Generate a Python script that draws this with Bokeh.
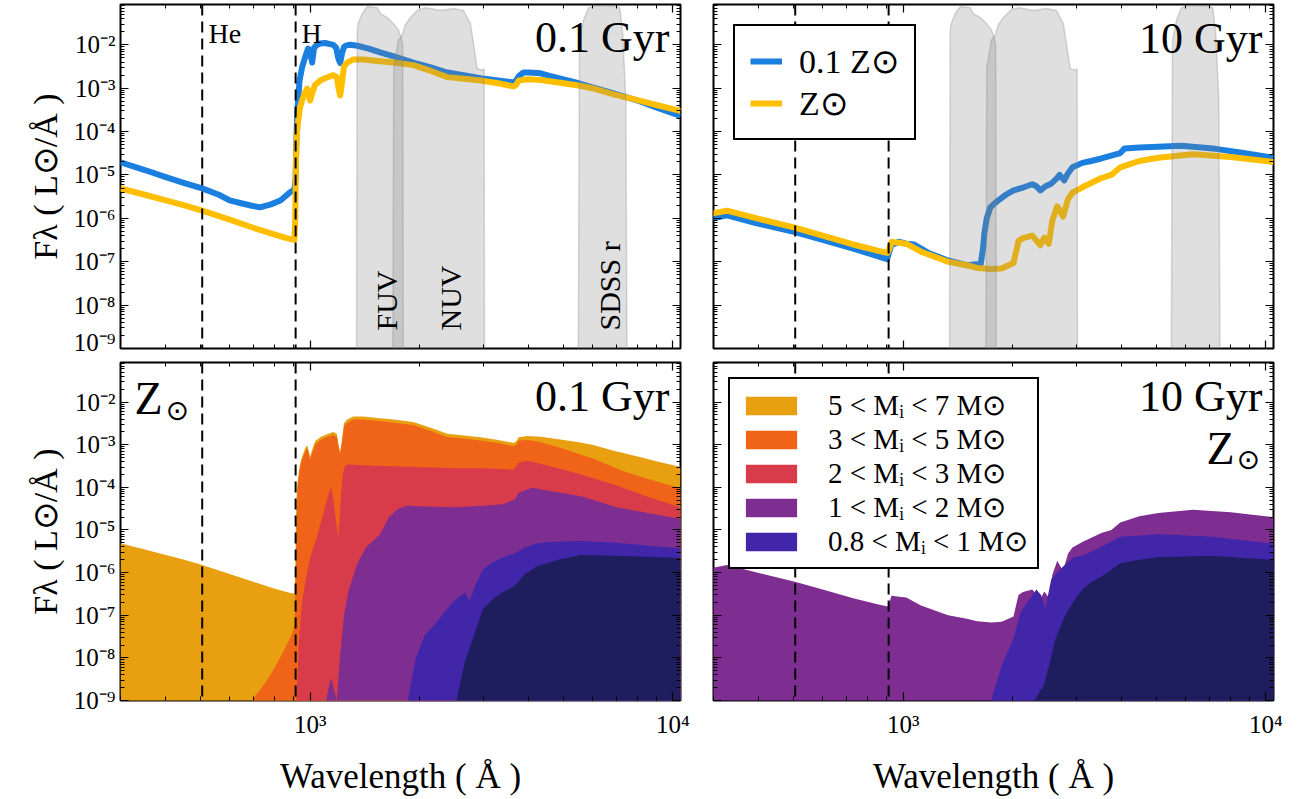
import math
from bokeh.plotting import figure
from bokeh.models import (Range1d, FixedTicker, LogAxis, CustomJSTickFormatter,
                          Span, Label, Legend, LegendItem)
from bokeh.layouts import column, row
from bokeh.embed import file_html
from bokeh.resources import INLINE

# ---------------- axes / ticks ----------------
XMIN, XMAX = 300.0, 10500.0
YMIN, YMAX = 1e-9, 8.5e-2
FLOOR = 1e-13

x_major = [1000, 10000]
x_minor = [300, 400, 500, 600, 700, 800, 900, 2000, 3000, 4000, 5000, 6000, 7000, 8000, 9000]
y_major = [1e-9, 1e-8, 1e-7, 1e-6, 1e-5, 1e-4, 1e-3, 1e-2]
y_minor = [k * 10.0 ** e for e in range(-9, -1) for k in range(2, 10) if k * 10.0 ** e <= YMAX]

edge_wl = [504, 912]
edge_names = ["He", "H"]

# ---------------- top row: total spectra ----------------
# 0.1 Gyr, 0.1 Zsun
wl_01z_01gyr = [300, 350, 400, 450, 504, 560, 600, 650, 690, 727, 780, 830, 880, 905, 912,
                916, 922, 935, 950, 968, 987, 1000, 1013, 1025, 1040, 1066, 1100, 1158, 1180, 1195,
                1210, 1225, 1240, 1260, 1290, 1350, 1450, 1560, 1700, 1926, 2150, 2390, 2650, 2950, 3300,
                3640, 3700, 3760, 3875, 4000, 4320, 4600, 5000, 5500, 6000, 6870, 8000, 9000, 10500]
flux_01z_01gyr = [1.95e-5, 1.3e-5, 8.9e-6, 6.5e-6, 4.9e-6, 3.5e-6, 2.6e-6, 2.2e-6, 1.95e-6, 1.8e-6,
                  2.1e-6, 2.6e-6, 4.0e-6, 4.6e-6, 8e-6, 6e-5, 3e-4, 1.5e-3, 3.0e-3, 5.1e-3,
                  8.2e-3, 6.5e-3, 3.9e-3, 8.5e-3, 9.7e-3, 1.07e-2, 1.1e-2, 1.0e-2, 8.5e-3, 5.0e-3,
                  3.8e-3, 6.5e-3, 9.0e-3, 9.7e-3, 1.0e-2, 9.5e-3, 8.2e-3, 6.7e-3, 5.4e-3, 3.9e-3,
                  3.0e-3, 2.3e-3, 2.0e-3, 1.7e-3, 1.5e-3, 1.35e-3, 1.5e-3, 1.9e-3, 2.3e-3, 2.3e-3,
                  2.2e-3, 1.9e-3, 1.6e-3, 1.3e-3, 1.05e-3, 7.6e-4, 5.2e-4, 3.6e-4, 2.3e-4]
# 0.1 Gyr, Zsun
wl_z1_01gyr = [300, 350, 400, 450, 504, 600, 700, 800, 860, 905, 910, 914, 918, 925, 938,
               950, 968, 981, 992, 1000, 1010, 1032, 1066, 1100, 1158, 1185, 1198, 1210, 1222, 1240,
               1265, 1315, 1400, 1560, 1700, 1926, 2150, 2390, 2650, 2950, 3300, 3640, 3700, 3760, 3970,
               4320, 5000, 5500, 6000, 6870, 8000, 9000, 10500]
flux_z1_01gyr = [4.9e-6, 3.5e-6, 2.6e-6, 2.0e-6, 1.5e-6, 9.3e-7, 6.0e-7, 4.2e-7, 3.5e-7, 3.2e-7,
                 1e-6, 2e-5, 8e-5, 1.5e-4, 3.6e-4, 5.2e-4, 8e-4, 9.8e-4, 7e-4, 5.2e-4,
                 7e-4, 1.2e-3, 1.5e-3, 1.7e-3, 2.0e-3, 1.8e-3, 1.0e-3, 6.8e-4, 1.2e-3, 3.2e-3,
                 3.9e-3, 4.6e-3, 4.6e-3, 4.2e-3, 3.9e-3, 3.4e-3, 2.5e-3, 1.8e-3, 1.65e-3, 1.5e-3,
                 1.3e-3, 1.1e-3, 1.2e-3, 1.5e-3, 1.6e-3, 1.55e-3, 1.3e-3, 1.15e-3, 1.0e-3, 7.2e-4,
                 5.3e-4, 4.1e-4, 3.0e-4]
# 10 Gyr, 0.1 Zsun
wl_01z_10gyr = [298, 327, 395, 503, 600, 728, 850, 903, 930, 950, 970, 1020, 1073, 1180, 1330,
                1500, 1637, 1660, 1675, 1700, 1740, 1830, 1920, 2015, 2150, 2270, 2330, 2390, 2470, 2560,
                2640, 2700, 2780, 2850, 2930, 3120, 3300, 3520, 3750, 3970, 4080, 4480, 5050, 5850, 7270,
                8500, 10500]
flux_01z_10gyr = [1.0e-6, 1.17e-6, 7.7e-7, 4.8e-7, 3.2e-7, 2.0e-7, 1.35e-7, 1.14e-7, 2.6e-7, 2.6e-7,
                  2.9e-7, 2.6e-7, 2.5e-7, 1.57e-7, 1.07e-7, 8.3e-8, 9e-8, 2.0e-7, 4.5e-7, 1.0e-6,
                  1.8e-6, 2.6e-6, 3.5e-6, 4.4e-6, 5.2e-6, 6.1e-6, 5.5e-6, 4.4e-6, 5.5e-6, 6.3e-6,
                  8e-6, 1.0e-5, 7.5e-6, 1.1e-5, 1.5e-5, 1.9e-5, 2.1e-5, 2.4e-5, 2.8e-5, 3.2e-5,
                  4.1e-5, 4.3e-5, 4.5e-5, 4.7e-5, 4.0e-5, 3.3e-5, 2.5e-5]
# 10 Gyr, Zsun
wl_z1_10gyr = [298, 327, 395, 503, 600, 728, 850, 905, 912, 930, 950, 1020, 1120, 1330, 1500,
               1600, 1750, 1870, 2015, 2080, 2140, 2270, 2390, 2450, 2520, 2580, 2660, 2760, 2850, 2930,
               3120, 3520, 3750, 3970, 4480, 5050, 6300, 8000, 10500]
flux_z1_10gyr = [1.3e-6, 1.5e-6, 1.0e-6, 6.1e-7, 4.0e-7, 2.5e-7, 1.8e-7, 1.6e-7, 1.8e-7, 2.9e-7,
                 2.8e-7, 2.6e-7, 1.7e-7, 1.0e-7, 8.3e-8, 7.2e-8, 6.8e-8, 7.0e-8, 9.3e-8, 3.0e-7,
                 3.5e-7, 4.0e-7, 2.4e-7, 3.6e-7, 2.6e-7, 9e-7, 1.9e-6, 1.1e-6, 2.8e-6, 3.9e-6,
                 5.2e-6, 8.5e-6, 1.0e-5, 1.5e-5, 2.1e-5, 2.5e-5, 3.0e-5, 2.6e-5, 2.0e-5]

# ---------------- filter bands (upper envelope) ----------------
fuv_wl = [1340, 1348, 1357, 1392, 1437, 1480, 1531, 1561, 1633, 1696, 1750, 1783, 1800, 1810]
fuv_top = [1e-13, 0.02, 0.031, 0.0526, 0.076, 0.074, 0.072, 0.0526, 0.0425, 0.031, 0.0224, 0.0147, 0.01, 1e-13]
nuv_wl = [1685, 1700, 1750, 1796, 1830, 1888, 1974, 2080, 2146, 2286, 2484, 2645, 2766, 2889, 2985, 3017, 3030]
nuv_top = [1e-13, 2.8e-3, 1.26e-2, 1.7e-2, 2.9e-2, 4.2e-2, 6.2e-2, 7.2e-2, 6.9e-2, 6.2e-2, 6.9e-2, 6.2e-2,
           3.1e-2, 2.8e-3, 2.6e-3, 2.8e-3, 1e-13]
r_wl = [5465, 5530, 5675, 5856, 6127, 6530, 6960, 7140, 7280, 7420, 7510]
r_top = [1e-13, 0.0126, 0.037, 0.072, 0.080, 0.080, 0.076, 0.072, 0.0173, 5.2e-4, 1e-13]
band_names = ["FUV", "NUV", "SDSS r"]

# ---------------- bottom row: cumulative contributions by initial mass ----------------
mass_bins = ["5 < Mᵢ < 7 M⊙", "3 < Mᵢ < 5 M⊙", "2 < Mᵢ < 3 M⊙", "1 < Mᵢ < 2 M⊙", "0.8 < Mᵢ < 1 M⊙"]
# 0.1 Gyr (Zsun): cumulative tops; top layer equals the total Zsun spectrum
wl_01gyr_3to5 = [690, 750, 800, 850, 896, 905, 912, 918, 925, 938, 950, 968, 981, 992, 1000,
                 1010, 1032, 1066, 1100, 1158, 1185, 1198, 1210, 1222, 1240, 1265, 1315, 1400, 1560, 1700,
                 1926, 2150, 2390, 2650, 2950, 3300, 3640, 3700, 3760, 3970, 4320, 5000, 5580, 6000, 7400,
                 8500, 10500]
cum_01gyr_3to5 = [1e-9, 2.5e-9, 6e-9, 1.6e-8, 4e-8, 6e-8, 8e-7, 1.6e-5, 1.2e-4, 3e-4,
                  4.4e-4, 6.8e-4, 8.3e-4, 6e-4, 4.4e-4, 6e-4, 1.0e-3, 1.28e-3, 1.45e-3, 1.7e-3,
                  1.5e-3, 8.5e-4, 5.8e-4, 1.0e-3, 2.7e-3, 3.3e-3, 3.9e-3, 3.9e-3, 3.6e-3, 3.3e-3,
                  2.9e-3, 2.1e-3, 1.5e-3, 1.4e-3, 1.25e-3, 1.1e-3, 9.2e-4, 1.0e-3, 1.25e-3, 1.3e-3,
                  1.15e-3, 8e-4, 5.8e-4, 4.8e-4, 2.3e-4, 1.6e-4, 9.5e-5]
wl_01gyr_2to3 = [918, 930, 950, 970, 990, 1010, 1040, 1070, 1100, 1125, 1141, 1160, 1180, 1195, 1205,
                 1215, 1230, 1250, 1275, 1300, 1500, 2000, 2500, 3000, 3640, 3760, 3970, 4320, 5000, 5580,
                 7000, 8500, 10500]
cum_01gyr_2to3 = [1e-9, 2e-8, 2e-7, 6e-7, 1.5e-6, 3e-6, 6e-6, 1.5e-5, 3.5e-5, 7e-5,
                  1.0e-4, 5e-5, 1.5e-5, 7e-6, 1.5e-5, 6e-5, 2e-4, 3.3e-4, 3.5e-4, 3.4e-4,
                  3.2e-4, 3.0e-4, 2.8e-4, 2.8e-4, 2.6e-4, 3.8e-4, 4.2e-4, 3.6e-4, 2.6e-4, 2.0e-4,
                  1.1e-4, 6e-5, 3.4e-5]
wl_01gyr_1to2 = [1107, 1125, 1141, 1160, 1185, 1210, 1240, 1278, 1353, 1430, 1560, 1650, 1745, 1850, 2000,
                 2500, 3000, 3400, 3660, 3760, 4090, 4500, 5580, 7000, 10500]
cum_01gyr_1to2 = [1e-9, 2e-9, 3.4e-9, 2e-9, 1e-9, 1.2e-8, 1e-7, 4e-7, 1.7e-6, 4e-6,
                  8e-6, 2e-5, 3.1e-5, 3.7e-5, 3.6e-5, 3.4e-5, 3.7e-5, 4e-5, 5.2e-5, 7.5e-5,
                  9.8e-5, 8.5e-5, 6.2e-5, 3.4e-5, 1.8e-5]
wl_01gyr_08to1 = [1860, 1956, 2070, 2200, 2350, 2500, 2670, 2750, 2850, 3000, 3170, 3400, 3660, 3900, 4210,
                  4600, 5580, 7000, 10500]
cum_01gyr_08to1 = [1e-9, 9.8e-9, 3.4e-8, 6e-8, 1.2e-7, 2.2e-7, 3.4e-7, 2.2e-7, 5e-7, 1.2e-6,
                   1.7e-6, 2.3e-6, 2.8e-6, 3.8e-6, 4.8e-6, 5.2e-6, 5.5e-6, 5e-6, 3.7e-6]
wl_01gyr_low = [2530, 2670, 2830, 2995, 3170, 3400, 3660, 3900, 4210, 4850, 5580, 7000, 10500]
cum_01gyr_low = [1e-9, 8e-9, 3.4e-8, 1.4e-7, 2.3e-7, 3.5e-7, 4.8e-7, 9e-7, 1.4e-6, 2e-6, 2.6e-6, 2.5e-6, 2.2e-6]

# 10 Gyr (Zsun): stars above 2 Msun no longer contribute; 1-2 Msun top equals the total
wl_10gyr_08to1 = [1748, 1870, 2015, 2110, 2200, 2330, 2400, 2470, 2560, 2760, 2950, 3120, 3520, 3970, 5050,
                  7000, 10500]
cum_10gyr_08to1 = [1e-9, 6.8e-9, 2.8e-8, 1.2e-7, 2e-7, 4e-7, 3e-7, 1.5e-7, 7e-7, 1.4e-6,
                   2.3e-6, 2.5e-6, 4e-6, 6.9e-6, 7.9e-6, 7e-6, 4.8e-6]
wl_10gyr_low = [2300, 2445, 2540, 2630, 2800, 2970, 3120, 3300, 3520, 3970, 4480, 5050, 7000, 10500]
cum_10gyr_low = [1e-9, 2.3e-9, 8e-9, 2.8e-8, 1e-7, 2.3e-7, 4e-7, 6e-7, 8e-7, 1.65e-6, 2e-6, 2.3e-6, 2.5e-6, 2e-6]

# ---------------- style ----------------
BLUE = "#1b7fdf"
YELLOW = "#ffbf00"
LAYER_COLORS = ["#e8a010", "#ef6418", "#d83b4a", "#7e2d91", "#4126aa", "#1e1e5e"]
FONT = "Liberation Serif"
FW, FH = 560, 344
TICK_FONT = "25px"

LX0, LX1 = math.log10(XMIN), math.log10(XMAX)
LY0, LY1 = math.log10(YMIN), math.log10(YMAX)


def fx(px):
    return 10 ** (LX0 + px / FW * (LX1 - LX0))


def fy(py):
    return 10 ** (LY1 - py / FH * (LY1 - LY0))


SUP_JS = """
const m = {"-":"\u207b","0":"\u2070","1":"\u00b9","2":"\u00b2","3":"\u00b3","4":"\u2074",
           "5":"\u2075","6":"\u2076","7":"\u2077","8":"\u2078","9":"\u2079"};
const e = Math.round(Math.log10(tick));
return "10" + String(e).split("").map(c => m[c]).join("");
"""


def base_fig(ml, mr, mt, mb, xlab, ylab):
    p = figure(width=ml + FW + mr, height=mt + FH + mb,
               x_axis_type="log", y_axis_type="log",
               x_range=Range1d(XMIN, XMAX), y_range=Range1d(YMIN, YMAX),
               min_border_left=ml, min_border_right=mr, min_border_top=mt, min_border_bottom=mb,
               toolbar_location=None, output_backend="svg",
               background_fill_color="white", border_fill_color="white")
    p.grid.visible = False
    p.outline_line_color = "black"
    p.outline_line_width = 2
    p.outline_line_alpha = 1
    p.add_layout(LogAxis(), "above")
    p.add_layout(LogAxis(), "right")
    for ax in p.xaxis:
        ax.ticker = FixedTicker(ticks=x_major, minor_ticks=x_minor)
    for ax in p.yaxis:
        ax.ticker = FixedTicker(ticks=y_major, minor_ticks=y_minor)
    for ax in p.axis:
        ax.axis_line_color = None
        ax.major_tick_in = 8
        ax.major_tick_out = 0
        ax.minor_tick_in = 4
        ax.minor_tick_out = 0
        ax.major_tick_line_color = "black"
        ax.minor_tick_line_color = "black"
        ax.major_tick_line_width = 1.2
        ax.minor_tick_line_width = 1
        ax.major_label_text_font_size = "1px"
        ax.major_label_text_alpha = 0
        ax.major_label_standoff = 0
    if xlab:
        ax = p.below[0]
        ax.formatter = CustomJSTickFormatter(code=SUP_JS)
        ax.major_label_text_font = FONT
        ax.major_label_text_font_size = TICK_FONT
        ax.major_label_text_alpha = 1
        ax.major_label_text_color = "black"
        ax.major_label_standoff = 10
        ax.axis_label = "Wavelength ( Å )"
        ax.axis_label_text_font = FONT
        ax.axis_label_text_font_size = "35px"
        ax.axis_label_text_font_style = "normal"
        ax.axis_label_text_color = "black"
        ax.axis_label_standoff = 16
    if ylab:
        ax = p.left[0]
        ax.formatter = CustomJSTickFormatter(code=SUP_JS)
        ax.major_label_text_font = FONT
        ax.major_label_text_font_size = TICK_FONT
        ax.major_label_text_alpha = 1
        ax.major_label_text_color = "black"
        ax.major_label_standoff = 5
        ax.axis_label = "Fλ ( L⊙/Å )"
        ax.axis_label_text_font = FONT
        ax.axis_label_text_font_size = "34px"
        ax.axis_label_text_font_style = "normal"
        ax.axis_label_text_color = "black"
        ax.axis_label_standoff = 7
    return p


def add_text(p, px, py_base, text, size, align="left", angle=0.0, font=FONT):
    """Place text so that its baseline sits at py_base (pixels below the frame top)."""
    if angle == 0.0:
        x, y = fx(px), fy(py_base - 0.31 * size)
    else:
        x, y = fx(px - 0.31 * size), fy(py_base)
    p.add_layout(Label(x=x, y=y, text=text, text_font=font,
                       text_font_size=f"{size}px", text_align=align,
                       text_baseline="middle", angle=angle, text_color="black"))


def add_sun(p, px, py_mid, size):
    p.add_layout(Label(x=fx(px), y=fy(py_mid), text="⊙", text_font="DejaVu Sans",
                       text_font_size=f"{size}px", text_align="left",
                       text_baseline="middle", text_color="black"))


def add_edges(p):
    for w in edge_wl:
        p.add_layout(Span(location=w, dimension="height", line_color="black",
                          line_width=2, line_dash="11 6"))


def add_bands(p):
    for wl, top in ((fuv_wl, fuv_top), (nuv_wl, nuv_top), (r_wl, r_top)):
        p.varea(x=wl, y1=FLOOR, y2=top, fill_color="#808080", fill_alpha=0.25)
        p.line(wl, top, line_color="#808080", line_alpha=0.3, line_width=1.5)


# ---------------- panel: top-left ----------------
p1 = base_fig(120, 16, 4, 7, False, True)
p1.line(wl_01z_01gyr, flux_01z_01gyr, line_color=BLUE, line_width=6, line_join="round")
p1.line(wl_z1_01gyr, flux_z1_01gyr, line_color=YELLOW, line_width=6, line_join="round")
add_bands(p1)
add_edges(p1)
add_text(p1, 549, 47, "0.1 Gyr", 44, align="right")
add_text(p1, 88, 38, edge_names[0], 28)
add_text(p1, 181, 38, edge_names[1], 28)
add_text(p1, 275, 326, band_names[0], 30, angle=math.pi / 2)
add_text(p1, 339, 326, band_names[1], 30, angle=math.pi / 2)
add_text(p1, 498, 326, band_names[2], 30, angle=math.pi / 2)

# ---------------- panel: top-right ----------------
p2 = base_fig(17, 10, 4, 7, False, False)
rb = p2.line(wl_01z_10gyr, flux_01z_10gyr, line_color=BLUE, line_width=6, line_join="round")
ry = p2.line(wl_z1_10gyr, flux_z1_10gyr, line_color=YELLOW, line_width=6, line_join="round")
add_bands(p2)
add_edges(p2)
leg2 = Legend(items=[LegendItem(label="0.1 Z⊙", renderers=[rb]),
                     LegendItem(label="Z⊙", renderers=[ry])],
              location="top_left", margin=20, padding=15, spacing=2,
              glyph_width=32, glyph_height=30, label_standoff=17,
              label_text_font=FONT, label_text_font_size="34px", label_text_color="black",
              border_line_color="black", border_line_width=2, border_line_alpha=1,
              background_fill_color="white", background_fill_alpha=1)
p2.add_layout(leg2)
add_text(p2, 549, 48, "10 Gyr", 44, align="right")

# ---------------- panel: bottom-left ----------------
p3 = base_fig(120, 16, 7, 92, True, True)
layers_01 = [(wl_z1_01gyr, flux_z1_01gyr), (wl_01gyr_3to5, cum_01gyr_3to5),
             (wl_01gyr_2to3, cum_01gyr_2to3), (wl_01gyr_1to2, cum_01gyr_1to2),
             (wl_01gyr_08to1, cum_01gyr_08to1), (wl_01gyr_low, cum_01gyr_low)]
for (wl, top), c in zip(layers_01, LAYER_COLORS):
    p3.varea(x=wl, y1=FLOOR, y2=top, fill_color=c, fill_alpha=1)
add_edges(p3)
add_text(p3, 549, 48, "0.1 Gyr", 44, align="right")
add_text(p3, 14, 51, "Z", 46)
add_sun(p3, 45, 49, 28)

# ---------------- panel: bottom-right ----------------
p4 = base_fig(17, 10, 7, 92, True, False)
layers_10 = [(wl_z1_10gyr, flux_z1_10gyr), (wl_10gyr_08to1, cum_10gyr_08to1), (wl_10gyr_low, cum_10gyr_low)]
rends = []
for (wl, top), c in zip(layers_10, LAYER_COLORS[3:]):
    rends.append(p4.varea(x=wl, y1=FLOOR, y2=top, fill_color=c, fill_alpha=1))
# mass bins above 2 Msun have no living stars at 10 Gyr: legend swatches only
dead = [p4.varea(x=[XMIN], y1=[FLOOR], y2=[FLOOR], fill_color=c, fill_alpha=1) for c in LAYER_COLORS[:3]]
add_edges(p4)
leg4 = Legend(items=[LegendItem(label=lab, renderers=[r]) for lab, r in zip(mass_bins, dead + rends[:2])],
              location="top_left", margin=15, padding=9, spacing=0,
              glyph_width=64, glyph_height=23, label_standoff=25,
              label_text_font=FONT, label_text_font_size="29px", label_text_color="black",
              border_line_color="black", border_line_width=2, border_line_alpha=1,
              background_fill_color="white", background_fill_alpha=1)
p4.add_layout(leg4)
add_text(p4, 549, 48, "10 Gyr", 44, align="right")
add_text(p4, 521, 102, "Z", 46, align="right")
add_sun(p4, 523, 99, 28)

layout = column(row(p1, p2), row(p3, p4))
open("out.html", "w").write(file_html(layout, INLINE))
